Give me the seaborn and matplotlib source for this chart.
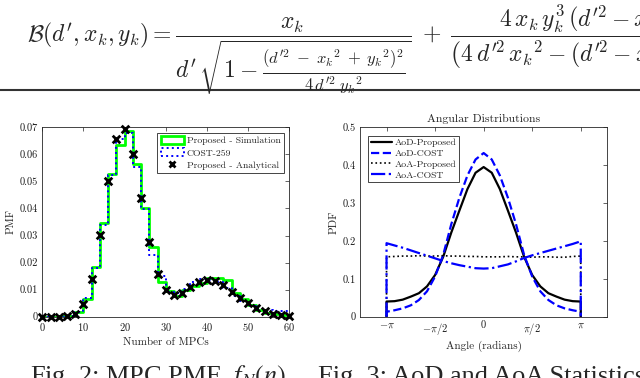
import numpy as np
import pandas as pd
import matplotlib
matplotlib.use("Agg")
import matplotlib.pyplot as plt
import seaborn as sns
from matplotlib.patches import Patch
from matplotlib.lines import Line2D

# ---- Fig. 2 data: number of MPCs PMF ----
mpc_n = list(range(0, 62, 2))
pmf_sim = [0, 0, 0.0001, 0.0004, 0.0016, 0.0064, 0.0184, 0.0345, 0.0526, 0.0636,
           0.0686, 0.0566, 0.0401, 0.0259, 0.0130, 0.0095, 0.0077, 0.0100, 0.0113, 0.0123,
           0.0144, 0.0143, 0.0136, 0.0087, 0.0064, 0.0042, 0.0026, 0.0014, 0.0009, 0.0006,
           0.0005]
pmf_cost = [0, 0, 0, 0.0003, 0.0018, 0.0069, 0.0180, 0.0340, 0.0525, 0.0658,
            0.0680, 0.0552, 0.0399, 0.0229, 0.0150, 0.0092, 0.0087, 0.0102, 0.0128, 0.0138,
            0.0137, 0.0127, 0.0106, 0.0076, 0.0057, 0.0038, 0.0028, 0.0024, 0.0022, 0.0021,
            0.0021]
pmf_ana = [0, 0, 0, 0.0002, 0.0010, 0.0047, 0.0138, 0.0302, 0.0503, 0.0657,
           0.0693, 0.0601, 0.0437, 0.0275, 0.0157, 0.0097, 0.0081, 0.0089, 0.0111, 0.0129,
           0.0136, 0.0133, 0.0118, 0.0092, 0.0070, 0.0049, 0.0031, 0.0020, 0.0010, 0.0005,
           0.0002]

# ---- Fig. 3 data: angular pdfs (angle in multiples of pi/12, edges repeated) ----
ang_k = [-12, -12, -11, -10, -9, -8, -7, -6, -5, -4, -3, -2, -1, 0,
         1, 2, 3, 4, 5, 6, 7, 8, 9, 10, 11, 12, 12]
aod_prop = [0, 0.040, 0.041, 0.045, 0.053, 0.062, 0.080, 0.110, 0.158, 0.222, 0.280, 0.337, 0.380, 0.395,
            0.380, 0.337, 0.280, 0.222, 0.158, 0.110, 0.080, 0.062, 0.053, 0.045, 0.041, 0.040, 0]
aod_cost = [0, 0.013, 0.017, 0.022, 0.030, 0.044, 0.067, 0.106, 0.163, 0.244, 0.314, 0.373, 0.415, 0.432,
            0.415, 0.373, 0.314, 0.244, 0.163, 0.106, 0.067, 0.044, 0.030, 0.022, 0.017, 0.013, 0]
aoa_prop = [0, 0.158, 0.159, 0.160, 0.160, 0.161, 0.160, 0.160, 0.161, 0.160, 0.160, 0.159, 0.159, 0.158,
            0.158, 0.158, 0.159, 0.158, 0.158, 0.157, 0.158, 0.158, 0.157, 0.157, 0.159, 0.160, 0]
aoa_cost = [0, 0.194, 0.188, 0.182, 0.175, 0.168, 0.161, 0.154, 0.147, 0.141, 0.136, 0.132, 0.128, 0.127,
            0.128, 0.133, 0.138, 0.146, 0.155, 0.162, 0.168, 0.174, 0.180, 0.186, 0.192, 0.199, 0]

pi_ticks = [-np.pi, -np.pi / 2, 0, np.pi / 2, np.pi]
pi_labels = [r"$-\pi$", r"$-\pi/2$", "0", r"$\pi/2$", r"$\pi$"]

sns.set_style("white")
plt.rcParams["font.family"] = ["cmr10", "DejaVu Serif"]
plt.rcParams["mathtext.fontset"] = "cm"
plt.rcParams["axes.unicode_minus"] = False
plt.rcParams["axes.formatter.use_mathtext"] = True

edge = "#262626"
green = "#00ff00"
blue = "#0000ff"

fig = plt.figure(figsize=(6.4, 3.78), dpi=100)

# equation strip at the top
eq = (r"$\mathcal{B}(d^{\prime},x_k,y_k)="
      r"\dfrac{x_k}{d^{\prime}\,\sqrt{1-\frac{(d^{\prime 2}\;-\;{x_k}^2\;+\;{y_k}^2)^2}"
      r"{4\,d^{\prime 2}\;{y_k}^2}}}"
      r"\;+\;\dfrac{4\,x_k\,y_k^3\,\left(d^{\prime 2}-{x_k}^2-{y_k}^2\right)}"
      r"{\left(4\,d^{\prime 2}\,{x_k}^2-(d^{\prime 2}-{x_k}^2+{y_k}^2)^2\right)^{3/2}}$")
fig.text(27 / 640, 1 - 42 / 378, eq, fontsize=17, va="baseline", ha="left")
fig.add_artist(Line2D([0, 1], [1 - 90 / 378, 1 - 90 / 378], color="#333333", lw=1.5,
                      transform=fig.transFigure))

ax1 = fig.add_axes([0.0661, 0.1622, 0.3859, 0.5011])
ax2 = fig.add_axes([0.5625, 0.1622, 0.3864, 0.5011])

# ---- left: PMF ----
pmf = pd.DataFrame({"n": mpc_n, "sim": pmf_sim, "cost": pmf_cost, "ana": pmf_ana})
sns.lineplot(data=pmf, x="n", y="sim", ax=ax1, color=green, lw=2, drawstyle="steps-post",
             estimator=None)
sns.lineplot(data=pmf, x="n", y="cost", ax=ax1, color=blue, lw=1.4, linestyle=":",
             drawstyle="steps-post", estimator=None)
sns.scatterplot(data=pmf, x="n", y="ana", ax=ax1, marker="x", color="black", s=30,
                linewidth=2, zorder=5, clip_on=False)
ax1.set_xlim(0, 60)
ax1.set_ylim(0, 0.07)
ax1.set_xticks(range(0, 61, 10))
ax1.set_yticks([0, 0.01, 0.02, 0.03, 0.04, 0.05, 0.06, 0.07])
ax1.set_yticklabels(["0", "0.01", "0.02", "0.03", "0.04", "0.05", "0.06", "0.07"])
ax1.set_xlabel("Number of MPCs", fontsize=8, labelpad=3)
ax1.set_ylabel("PMF", fontsize=8, labelpad=3)
h1 = [Patch(facecolor="none", edgecolor=green, lw=2),
      Patch(facecolor="none", edgecolor=blue, lw=1.4, linestyle=":"),
      Line2D([], [], marker="x", color="black", ls="none", markersize=5, mew=2)]
ax1.legend(h1, ["Proposed - Simulation", "COST-259", "Proposed - Analytical"],
           loc="upper right", fontsize=7, frameon=True, fancybox=False, framealpha=1,
           edgecolor=edge, handlelength=2.4, handleheight=0.9, borderpad=0.35,
           labelspacing=0.3, handletextpad=0.3, borderaxespad=0.55)

# ---- right: angular pdfs ----
ang = pd.DataFrame({"a": [k * np.pi / 12 for k in ang_k], "aod_p": aod_prop,
                    "aod_c": aod_cost, "aoa_p": aoa_prop, "aoa_c": aoa_cost})
sns.lineplot(data=ang, x="a", y="aod_p", ax=ax2, color="black", lw=1.6, sort=False,
             estimator=None, label="AoD-Proposed")
sns.lineplot(data=ang, x="a", y="aod_c", ax=ax2, color=blue, lw=1.6, linestyle="--",
             sort=False, estimator=None, label="AoD-COST")
sns.lineplot(data=ang, x="a", y="aoa_p", ax=ax2, color="black", lw=1.2, linestyle=":",
             sort=False, estimator=None, label="AoA-Proposed")
sns.lineplot(data=ang, x="a", y="aoa_c", ax=ax2, color=blue, lw=1.6, linestyle="-.",
             sort=False, estimator=None, label="AoA-COST")
ax2.set_xlim(-4, 4)
ax2.set_ylim(0, 0.5)
ax2.set_xticks(pi_ticks)
ax2.set_xticklabels(pi_labels)
ax2.set_yticks([0, 0.1, 0.2, 0.3, 0.4, 0.5])
ax2.set_yticklabels(["0", "0.1", "0.2", "0.3", "0.4", "0.5"])
ax2.set_xlabel("Angle (radians)", fontsize=8, labelpad=3)
ax2.set_ylabel("PDF", fontsize=8, labelpad=3)
ax2.set_title("Angular Distributions", fontsize=8.5, pad=4)
ax2.legend(loc="upper left", fontsize=7, frameon=True, fancybox=False, framealpha=1,
           edgecolor=edge, handlelength=2.1, borderpad=0.3, labelspacing=0.2,
           handletextpad=0.3, borderaxespad=0.85)

for ax in (ax1, ax2):
    for sp in ax.spines.values():
        sp.set_visible(True)
        sp.set_color(edge)
        sp.set_linewidth(0.6)
    ax.tick_params(direction="in", length=3, width=0.5, color=edge, labelsize=7.5,
                   labelcolor="#1a1a1a", top=True, right=True, pad=3)
    ax.legend_.get_frame().set_linewidth(0.6)

# captions (cut by the bottom edge as in the page crop)
fig.text(30 / 640, -5 / 378, r"Fig. 2: MPC PMF, $f_N(n)$", fontsize=19,
         family="Liberation Serif", math_fontfamily="stix", va="baseline", ha="left")
fig.text(318 / 640, -5 / 378, "Fig. 3: AoD and AoA Statistics", fontsize=19,
         family="Liberation Serif", va="baseline", ha="left")

fig.savefig("out.png", dpi=100)
